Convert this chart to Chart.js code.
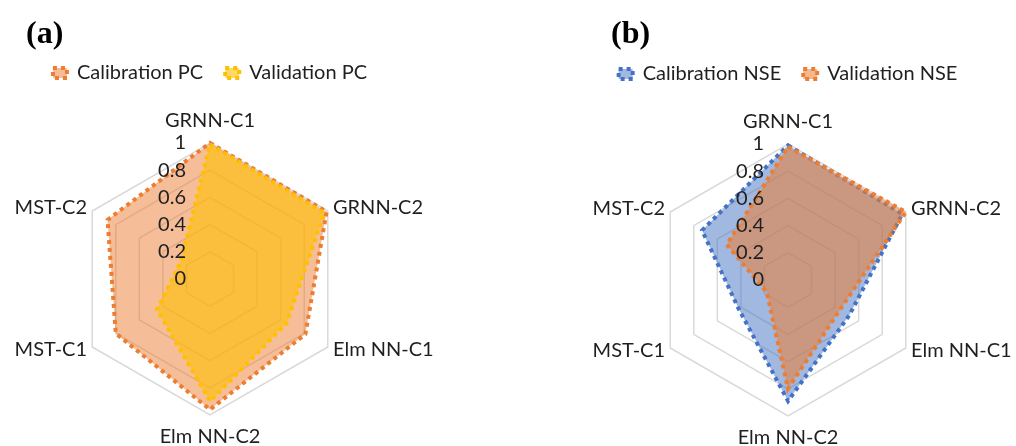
<!DOCTYPE html>
<html>
<head>
<meta charset="utf-8">
<script src="https://cdn.jsdelivr.net/npm/chart.js@4"></script>
<style>
  html, body { margin: 0; padding: 0; background: #fff; overflow: hidden; }
  body { width: 1016px; height: 446px; position: relative; }
  .panel { position: absolute; top: 0; height: 446px; }
  .tag { position: absolute; top: 14px; font: bold 32px "Liberation Serif", serif; color: #000; z-index: 1; }
</style>
</head>
<body>
<div class="tag" style="left:26px">(a)</div>
<div class="tag" style="left:611px">(b)</div>
<div class="panel" style="left:-30px; width:480px"><canvas id="chartPC"></canvas></div>
<div class="panel" style="left:560px; width:456px"><canvas id="chartNSE"></canvas></div>
<script>
// radar axes, same for both panels
const categories = ['GRNN-C1', 'GRNN-C2', 'Elm NN-C1', 'Elm NN-C2', 'MST-C1', 'MST-C2'];
const tickLabels = ['0', '0.2', '0.4', '0.6', '0.8', '1'];

// (a) PC
const calibrationPC = [1.0, 0.99, 0.81, 0.96, 0.80, 0.87];
const validationPC = [0.99, 0.97, 0.65, 0.90, 0.45, 0.25];

// (b) NSE
const calibrationNSE = [0.99, 0.97, 0.52, 0.89, 0.42, 0.73];
const validationNSE = [0.98, 1.0, 0.44, 0.80, 0.18, 0.52];

const FONT = 'Lato, "Open Sans", sans-serif';
const TEXT = '#1f1f1f';

// axis names and value labels, placed the way Excel does it
const radarText = {
  id: 'radarText',
  afterDatasetsDraw(chart) {
    const s = chart.scales.r;
    const ctx = chart.ctx;
    const R = s.drawingArea;
    ctx.save();
    ctx.font = '20px ' + FONT;
    ctx.fillStyle = TEXT;
    ctx.textBaseline = 'middle';
    chart.data.labels.forEach((lab, i) => {
      const p = s.getPointPosition(i, R + 6);
      const dx = p.x - s.xCenter;
      if (Math.abs(dx) < 1) {
        ctx.textAlign = 'center';
        ctx.fillText(lab, p.x, p.y < s.yCenter ? p.y - 16 : p.y + 16);
      } else {
        ctx.textAlign = dx > 0 ? 'left' : 'right';
        ctx.fillText(lab, p.x, p.y);
      }
    });
    ctx.textAlign = 'right';
    tickLabels.forEach(t => {
      const d = s.getDistanceFromCenterForValue(parseFloat(t));
      ctx.fillText(t, s.xCenter - 24, s.yCenter - d);
    });
    ctx.restore();
  }
};

// padTop/padBottom put the 272px-high chart area where the reference has it
function makeRadar(id, sets, padTop, padBottom) {
  const ctx = document.getElementById(id).getContext('2d');
  return new Chart(ctx, {
    type: 'radar',
    data: {
      labels: categories,
      datasets: sets.map((d, i) => ({
        label: d.label,
        data: d.data,
        borderColor: d.line,
        backgroundColor: d.fill,
        borderWidth: 4,
        borderDash: [4, 4],
        pointRadius: 0,
        order: 2 - i
      }))
    },
    options: {
      responsive: true,
      maintainAspectRatio: false,
      animation: false,
      layout: { padding: { left: 0, right: 0, top: padTop, bottom: padBottom } },
      plugins: {
        legend: {
          position: 'top',
          weight: 3000,
          labels: {
            color: TEXT,
            font: { family: FONT, size: 20 },
            boxWidth: 14,
            boxHeight: 10,
            padding: 22,
            sort: (a, b) => a.datasetIndex - b.datasetIndex
          }
        },
        // empty spacer between legend and plot
        subtitle: {
          display: true,
          text: '',
          font: { size: 10 },
          padding: { top: 38, bottom: 0 }
        },
        tooltip: { enabled: false }
      },
      scales: {
        r: {
          min: 0,
          max: 1,
          ticks: { stepSize: 0.2, display: false },
          grid: { color: '#d9d9d9', lineWidth: 1.5 },
          angleLines: { display: false },
          pointLabels: { display: false }
        }
      }
    },
    plugins: [radarText]
  });
}

makeRadar('chartPC', [
  { label: 'Calibration PC', data: calibrationPC, line: '#ED7D31', fill: 'rgba(237,125,49,0.5)' },
  { label: 'Validation PC', data: validationPC, line: '#FFC000', fill: 'rgba(255,192,0,0.6)' }
], 41, 31);

makeRadar('chartNSE', [
  { label: 'Calibration NSE', data: calibrationNSE, line: '#4472C4', fill: 'rgba(68,114,196,0.5)' },
  { label: 'Validation NSE', data: validationNSE, line: '#ED7D31', fill: 'rgba(237,125,49,0.55)' }
], 42, 30);
</script>
</body>
</html>
